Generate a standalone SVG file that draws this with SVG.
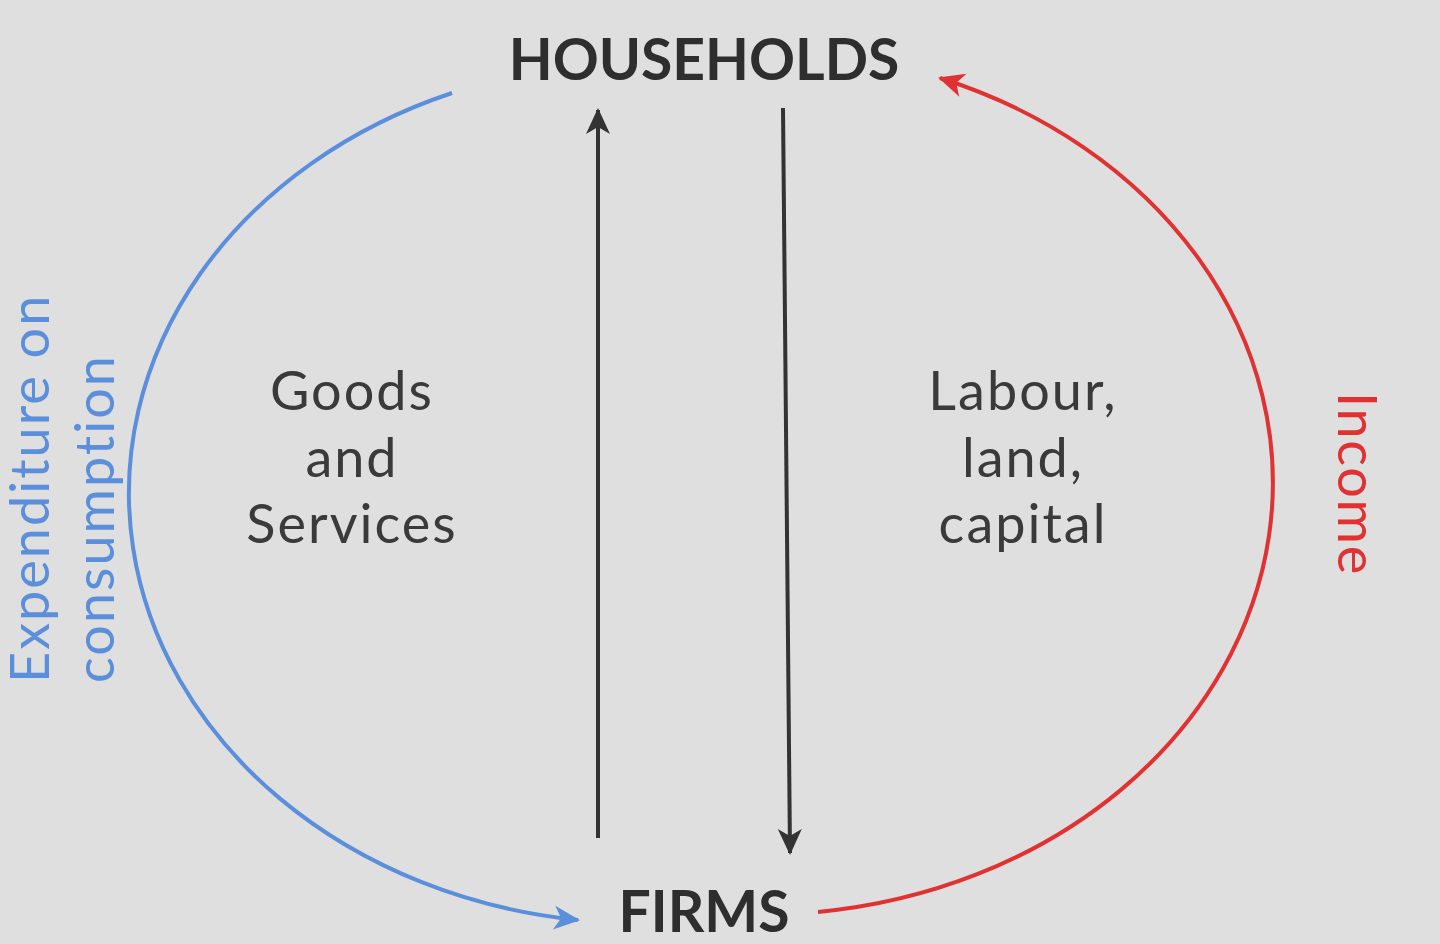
<svg xmlns="http://www.w3.org/2000/svg" width="1440" height="944" viewBox="0 0 1440 944">
<defs>
<style>
.t{font-family:Lato,"Noto Sans","Liberation Sans",sans-serif;fill:#3a3a3a;text-anchor:middle}
.title{font-size:57px;font-weight:700;fill:#2e2e2e}
.lbl{font-size:54px;letter-spacing:2px}
.blue{fill:#5b8fdb;font-size:54px;letter-spacing:2px;font-family:Lato,"Noto Sans","Liberation Sans",sans-serif}
.red{fill:#e03232;font-size:54px;letter-spacing:1.7px;font-family:Lato,"Noto Sans","Liberation Sans",sans-serif}
.blk{stroke:#333;stroke-width:4;fill:none}
</style>
<marker id="ab" markerUnits="userSpaceOnUse" viewBox="-26 -14 30 28" markerWidth="30" markerHeight="28" refX="0" refY="0" orient="auto">
<path d="M2 0 L-24 -12 L-17 0 L-24 12 Z" fill="#333"/>
</marker>
<marker id="abl" markerUnits="userSpaceOnUse" viewBox="-26 -14 30 28" markerWidth="30" markerHeight="28" refX="0" refY="0" orient="auto">
<path d="M2 0 L-24 -12 L-17 0 L-24 12 Z" fill="#5b8fdb"/>
</marker>
<marker id="ar" markerUnits="userSpaceOnUse" viewBox="-26 -14 30 28" markerWidth="30" markerHeight="28" refX="0" refY="0" orient="auto">
<path d="M2 0 L-24 -12 L-17 0 L-24 12 Z" fill="#e03232"/>
</marker>
</defs>
<rect width="1440" height="944" fill="#dfdfdf"/>
<g id="households"><text class="t title" x="704" y="80">HOUSEHOLDS</text></g>
<g id="firms"><text class="t title" x="704" y="932">FIRMS</text></g>
<g id="connectors">
<path id="goods-flow" class="blk" d="M598 838 L598 110" marker-end="url(#ab)"/>
<path id="factor-flow" class="blk" d="M783 108 L790 853" marker-end="url(#ab)"/>
<path id="expenditure" d="M452 93 A510 430 0 0 0 578 920" fill="none" stroke="#5b8fdb" stroke-width="4" marker-end="url(#abl)"/>
<path id="income" d="M818 912 A512 432 0 0 0 940 78" fill="none" stroke="#e03232" stroke-width="4" marker-end="url(#ar)"/>
</g>
<g id="goods-label">
<text class="t lbl" x="352" y="410">Goods</text>
<text class="t lbl" x="352" y="477">and</text>
<text class="t lbl" x="352" y="543">Services</text>
</g>
<g id="factors-label">
<text class="t lbl" x="1023" y="410">Labour,</text>
<text class="t lbl" x="1023" y="477">land,</text>
<text class="t lbl" x="1023" y="543">capital</text>
</g>
<g id="expenditure-label">
<text class="blue" transform="translate(49 683) rotate(-90)">Expenditure on</text>
<text class="blue" transform="translate(114 683) rotate(-90)">consumption</text>
</g>
<g id="income-label">
<text class="red" transform="translate(1338 392) rotate(90)">Income</text>
</g>
</svg>
